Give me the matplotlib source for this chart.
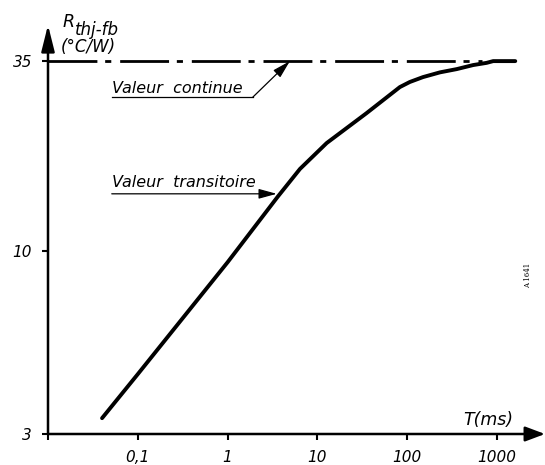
import matplotlib
matplotlib.use("Agg")
import matplotlib.pyplot as plt

# ---- data ----
T_ms = [0.04, 0.1, 1, 3.6, 6.4, 12.7, 35, 83, 107, 150, 232, 356, 543, 768, 908, 1600]
R_thj = [3.33, 4.45, 9.3, 14.3, 17.2, 20.4, 24.8, 29.5, 30.5, 31.5, 32.5, 33.2, 34.1, 34.6, 35.0, 35.0]
R_cont = 35
cont_end = 680
x_ticks = [0.01, 0.1, 1, 10, 100, 1000]
x_labels = ["", "0,1", "1", "10", "100", "1000"]
y_ticks = [3, 10, 35]
y_labels = ["3", "10", "35"]

W, H = 545, 465
fig = plt.figure(figsize=(W / 100, H / 100), dpi=100)
ax = fig.add_axes([48 / W, 31 / H, 497 / W, 409 / H])
ax.set_xscale("log")
ax.set_yscale("log")
ax.set_xlim(0.01, 3430)
ax.set_ylim(3, 44.4)
for s in ax.spines.values():
    s.set_visible(False)

ax.xaxis.set_minor_locator(matplotlib.ticker.NullLocator())
ax.yaxis.set_minor_locator(matplotlib.ticker.NullLocator())
ax.set_xticks(x_ticks, x_labels)
ax.set_yticks(y_ticks, y_labels)
ax.xaxis.set_minor_locator(matplotlib.ticker.NullLocator())
ax.yaxis.set_minor_locator(matplotlib.ticker.NullLocator())
ax.tick_params(direction="out", length=4.5, width=1.5, pad=7, labelsize=11)
for lab in ax.get_xticklabels() + ax.get_yticklabels():
    lab.set_fontstyle("italic")

# axes with arrows
ap = dict(arrowstyle="-|>,head_length=1.2,head_width=0.45", lw=1.8, color="black",
          shrinkA=0, shrinkB=0, mutation_scale=10)
ax.annotate("", xy=(1, 0), xytext=(0, 0), xycoords="axes fraction", arrowprops=ap)
ap2 = dict(ap)
ap2["arrowstyle"] = "-|>,head_length=1.6,head_width=0.4"
ax.annotate("", xy=(0, 1), xytext=(0, 0), xycoords="axes fraction", arrowprops=ap2)

# continuous value (dash-dot)
line, = ax.plot([0.01, cont_end], [R_cont, R_cont], color="black", lw=2.0)
line.set_dashes([17.6, 2.8, 2.2, 3.2])

# transient curve
ax.plot(T_ms, R_thj, color="black", lw=2.8, solid_joinstyle="round", solid_capstyle="round")

# annotations
tfont = dict(fontsize=11.5, fontstyle="italic")
ax.text(0.0513, 28.4, "Valeur  continue", ha="left", va="baseline", **tfont)
ax.plot([0.0513, 1.91], [27.6, 27.6], color="black", lw=0.9)
ax.annotate("", xy=(4.94, R_cont), xytext=(1.91, 27.6),
            arrowprops=dict(arrowstyle="-|>,head_length=1.1,head_width=0.3", lw=0.9,
                            color="black", shrinkA=0, shrinkB=0, mutation_scale=10))
ax.text(0.0513, 15.3, "Valeur  transitoire", ha="left", va="baseline", **tfont)
ax.annotate("", xy=(3.53, 14.6), xytext=(0.0513, 14.6),
            arrowprops=dict(arrowstyle="-|>,head_length=1.1,head_width=0.3", lw=0.9,
                            color="black", shrinkA=0, shrinkB=0, mutation_scale=10))

def px(x, y):
    return x / W, 1 - y / H

fig.text(*px(63, 27), "R", fontsize=12.5, fontstyle="italic", ha="left", va="baseline")
fig.text(*px(75, 35), "thj-fb", fontsize=12, fontstyle="italic", ha="left", va="baseline")
fig.text(*px(61, 52), "(°C/W)", fontsize=12, fontstyle="italic", ha="left", va="baseline")
fig.text(*px(463, 425), "T(ms)", fontsize=12.5, fontstyle="italic", ha="left", va="baseline")
fig.text(*px(528, 275), "A 1641", fontsize=5, rotation=90, ha="center", va="center",
         family="DejaVu Serif")

fig.savefig("out.png", dpi=100)
